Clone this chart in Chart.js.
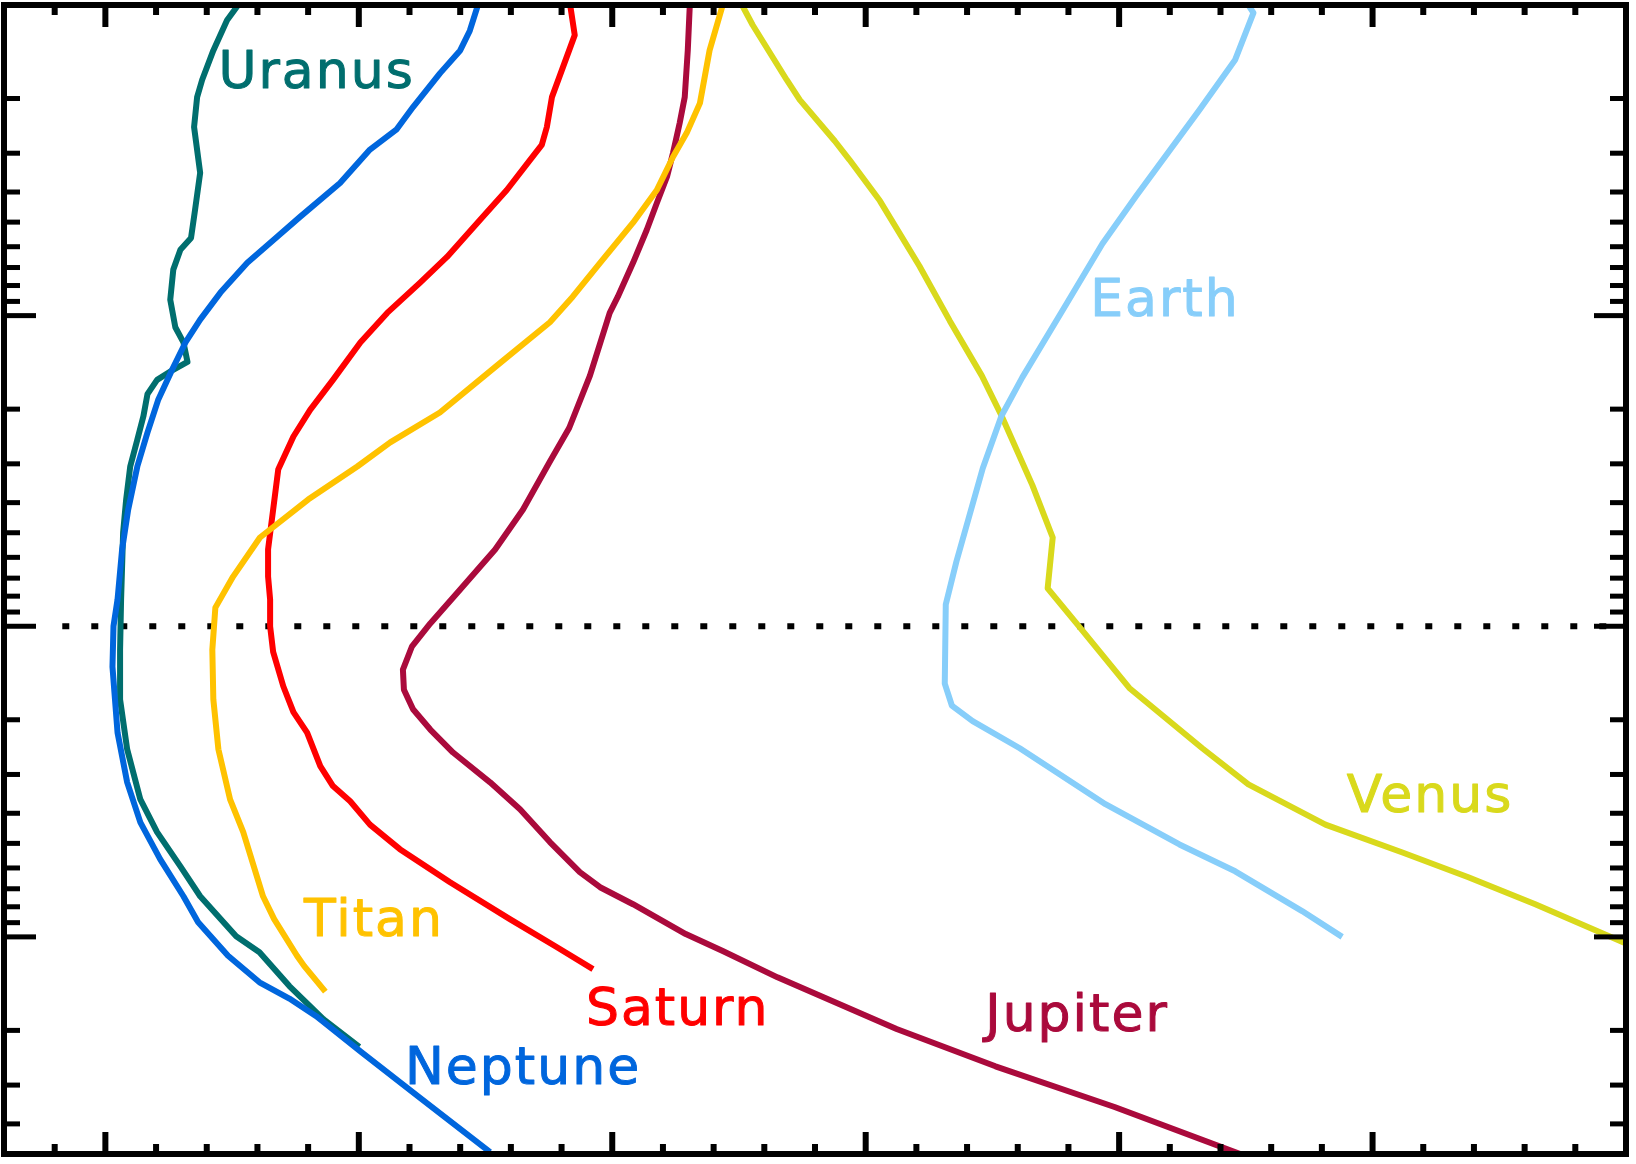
<!DOCTYPE html>
<html>
<head>
<meta charset="utf-8">
<script src="https://cdn.jsdelivr.net/npm/chart.js@4.4.1/dist/chart.umd.min.js"></script>
<style>
  html, body { margin: 0; padding: 0; background: #fff; }
</style>
</head>
<body>
<canvas id="profiles" width="1636" height="1164"></canvas>
<script>
// Temperature (K) / pressure (bar) profiles
const uranusT = [76.2, 74.0, 71.3, 69.1, 68.1, 67.5, 68.7, 67.7, 66.9, 64.8, 63.4, 62.8, 63.8, 65.4, 66.2, 63.2, 60.2, 58.3, 57.5, 56.3, 54.9, 54.1, 53.5, 53.1, 52.9, 52.9, 54.3, 56.9, 60.2, 64.8, 68.7, 75.8, 80.4, 86.3, 93.0, 100.1];
const uranusP = [0.001, 0.00112, 0.0014, 0.00174, 0.00198, 0.00247, 0.00347, 0.00456, 0.00562, 0.00614, 0.00711, 0.00889, 0.0109, 0.0122, 0.0141, 0.015, 0.0161, 0.0179, 0.0211, 0.0251, 0.0306, 0.0391, 0.0499, 0.082, 0.119, 0.172, 0.249, 0.361, 0.46, 0.593, 0.74, 0.995, 1.12, 1.44, 1.84, 2.26];

const neptuneT = [123.5, 121.9, 120.0, 116.0, 110.7, 107.4, 102.2, 96.3, 88.4, 83.9, 78.0, 72.7, 68.7, 65.8, 63.2, 60.4, 58.3, 56.3, 54.5, 53.3, 52.4, 51.6, 51.4, 52.4, 54.3, 56.9, 60.8, 65.4, 68.3, 74.2, 80.4, 86.3, 91.6, 100.5, 111.7, 125.9];
const neptuneP = [0.001, 0.00121, 0.0014, 0.00166, 0.00213, 0.00252, 0.00292, 0.00374, 0.00481, 0.00557, 0.00676, 0.00843, 0.0103, 0.0122, 0.0149, 0.0187, 0.0238, 0.0306, 0.0421, 0.0566, 0.082, 0.1, 0.135, 0.22, 0.318, 0.428, 0.562, 0.74, 0.897, 1.15, 1.4, 1.58, 1.8, 2.35, 3.26, 4.93];

const saturnT = [141.7, 142.6, 138.1, 137.1, 136.1, 133.8, 129.2, 123.9, 117.4, 112.1, 105.6, 100.3, 94.9, 90.4, 87.1, 84.1, 83.1, 82.1, 82.1, 82.5, 82.5, 83.1, 85.1, 87.1, 89.8, 92.4, 94.9, 98.3, 102.2, 108.1, 118.0, 129.8, 139.1, 146.2];
const saturnP = [0.001, 0.00125, 0.00198, 0.00247, 0.00282, 0.00315, 0.00394, 0.00492, 0.00647, 0.00783, 0.0098, 0.0122, 0.0161, 0.0201, 0.0245, 0.0313, 0.0421, 0.0566, 0.0692, 0.082, 0.1, 0.121, 0.156, 0.189, 0.22, 0.282, 0.327, 0.366, 0.435, 0.522, 0.667, 0.877, 1.08, 1.27];

const jupiterT = [165.3, 164.9, 164.3, 163.3, 162.0, 160.8, 158.8, 156.8, 154.1, 151.1, 149.5, 145.6, 141.5, 137.7, 132.4, 126.9, 120.0, 114.1, 110.5, 108.7, 108.9, 110.7, 114.1, 118.6, 125.9, 131.8, 137.7, 143.6, 147.6, 154.1, 164.5, 171.8, 182.6, 206.1, 225.6, 249.1, 273.9];
const jupiterP = [0.001, 0.0014, 0.00198, 0.0024, 0.00299, 0.00357, 0.00434, 0.0053, 0.00676, 0.00869, 0.0098, 0.0156, 0.023, 0.0295, 0.0421, 0.0566, 0.0762, 0.0979, 0.116, 0.138, 0.16, 0.185, 0.215, 0.255, 0.318, 0.388, 0.495, 0.619, 0.692, 0.785, 0.979, 1.11, 1.35, 1.98, 2.61, 3.53, 5.0];

const titanT = [171.8, 169.2, 167.3, 164.7, 162.0, 158.8, 154.1, 147.6, 142.2, 137.7, 127.9, 116.0, 106.2, 99.7, 90.0, 80.5, 75.2, 71.7, 71.1, 71.3, 72.3, 74.6, 77.2, 81.1, 83.3, 87.8, 89.2, 93.4];
const titanP = [0.001, 0.0014, 0.00207, 0.00258, 0.00308, 0.00394, 0.00502, 0.00676, 0.00869, 0.0105, 0.0142, 0.0205, 0.0256, 0.0306, 0.0391, 0.0518, 0.0692, 0.0871, 0.119, 0.172, 0.249, 0.361, 0.46, 0.74, 0.877, 1.15, 1.24, 1.5];

const venusT = [175.6, 177.7, 184.4, 187.0, 193.9, 196.8, 202.8, 210.6, 216.6, 222.9, 226.8, 232.9, 236.9, 235.9, 241.6, 252.0, 266.4, 275.5, 290.7, 305.9, 318.9, 332.1, 350.0];
const venusP = [0.001, 0.00116, 0.00174, 0.00202, 0.00274, 0.00315, 0.00427, 0.00692, 0.0104, 0.0156, 0.021, 0.0352, 0.0518, 0.0755, 0.0979, 0.158, 0.247, 0.323, 0.435, 0.535, 0.643, 0.785, 1.05];

const earthT = [275.5, 276.5, 272.9, 265.8, 253.4, 246.7, 238.8, 230.9, 226.8, 223.1, 217.9, 215.8, 215.6, 217.0, 221.1, 230.4, 247.3, 261.9, 272.9, 286.1, 294.0];
const earthP = [0.001, 0.00106, 0.0015, 0.00218, 0.00411, 0.00587, 0.00964, 0.0158, 0.021, 0.031, 0.0619, 0.0851, 0.153, 0.18, 0.202, 0.247, 0.374, 0.504, 0.615, 0.826, 1.0];

// common 0.1 bar tropopause line
const tropoT = [41.5, 350];
const tropoP = [0.1, 0.1];

// curve labels: text, left edge (K), baseline (bar)
const labelNames = ['Uranus', 'Earth', 'Venus', 'Titan', 'Saturn', 'Jupiter', 'Neptune'];
const labelT = [72.3, 244.3, 294.9, 89.2, 144.8, 223.6, 109.1];
const labelP = [0.00185, 0.01, 0.397, 0.995, 1.92, 2.01, 2.98];

// tick marks (no tick labels in the picture)
const xTickValues = [40, 50, 60, 70, 80, 90, 100, 110, 120, 130, 140, 150, 160, 170, 180, 190, 200, 210, 220, 230, 240, 250, 260, 270, 280, 290, 300, 310, 320, 330, 340];
const xMajorTicks = [50, 100, 150, 200, 250, 300];
const yTickValues = [0.002, 0.003, 0.004, 0.005, 0.006, 0.007, 0.008, 0.009, 0.01, 0.02, 0.03, 0.04, 0.05, 0.06, 0.07, 0.08, 0.09, 0.1, 0.2, 0.3, 0.4, 0.5, 0.6, 0.7, 0.8, 0.9, 1, 2, 3, 4];
const yMajorTicks = [0.01, 0.1, 1];

const colors = {
  Uranus: '#006e6e',
  Neptune: '#0066dd',
  Saturn: '#ff0000',
  Jupiter: '#aa0a3c',
  Titan: '#ffc200',
  Venus: '#d9d91c',
  Earth: '#87cefa',
};

function points(ts, ps) {
  return ts.map((t, i) => ({ x: t, y: ps[i] }));
}

function profile(name, ts, ps) {
  return {
    label: name,
    data: points(ts, ps),
    borderColor: colors[name],
    borderWidth: 6,
    borderJoinStyle: 'round',
    borderCapStyle: 'butt',
    pointRadius: 0,
    tension: 0,
    fill: false,
  };
}

// frame, inward ticks and curve labels
const framePlugin = {
  id: 'frame',
  afterDatasetsDraw(chart) {
    const { ctx, chartArea: a, scales } = chart;
    const x = scales.x;
    const y = scales.y;
    ctx.save();
    ctx.fillStyle = '#000';

    xTickValues.forEach((v) => {
      const px = x.getPixelForValue(v);
      const len = xMajorTicks.includes(v) ? 22 : 10;
      ctx.fillRect(px - 3, a.top, 6, len);
      ctx.fillRect(px - 3, a.bottom - len, 6, len);
    });

    yTickValues.forEach((v) => {
      const py = y.getPixelForValue(v);
      const len = yMajorTicks.includes(v) ? 32 : 16;
      ctx.fillRect(a.left, py - 2.5, len, 5);
      ctx.fillRect(a.right - len, py - 2.5, len, 5);
    });

    ctx.strokeStyle = '#000';
    ctx.lineWidth = 6;
    ctx.strokeRect(a.left, a.top, a.right - a.left, a.bottom - a.top);

    ctx.font = '52px "DejaVu Sans"';
    ctx.letterSpacing = '2px';
    ctx.textBaseline = 'alphabetic';
    ctx.textAlign = 'left';
    ctx.lineWidth = 1;
    ctx.lineJoin = 'round';
    labelNames.forEach((name, i) => {
      const lx = x.getPixelForValue(labelT[i]);
      const ly = y.getPixelForValue(labelP[i]);
      ctx.fillStyle = colors[name];
      ctx.strokeStyle = colors[name];
      ctx.fillText(name, lx, ly);
      ctx.strokeText(name, lx, ly);
    });
    ctx.restore();
  },
};

new Chart(document.getElementById('profiles'), {
  type: 'line',
  data: {
    datasets: [
      profile('Earth', earthT, earthP),
      profile('Titan', titanT, titanP),
      profile('Neptune', neptuneT, neptuneP),
      profile('Uranus', uranusT, uranusP),
      profile('Venus', venusT, venusP),
      profile('Saturn', saturnT, saturnP),
      profile('Jupiter', jupiterT, jupiterP),
      {
        label: 'tropopause',
        data: points(tropoT, tropoP),
        borderColor: '#000',
        borderWidth: 6,
        borderDash: [7, 22],
        borderCapStyle: 'butt',
        pointRadius: 0,
        fill: false,
      },
    ],
  },
  options: {
    responsive: false,
    animation: false,
    layout: { padding: { left: 4, top: 5, right: 10, bottom: 10 } },
    scales: {
      x: { type: 'linear', min: 30, max: 350, display: false },
      y: { type: 'logarithmic', min: 0.001, max: 5, reverse: true, display: false },
    },
    plugins: {
      legend: { display: false },
      tooltip: { enabled: false },
    },
  },
  plugins: [framePlugin],
});
</script>
</body>
</html>
